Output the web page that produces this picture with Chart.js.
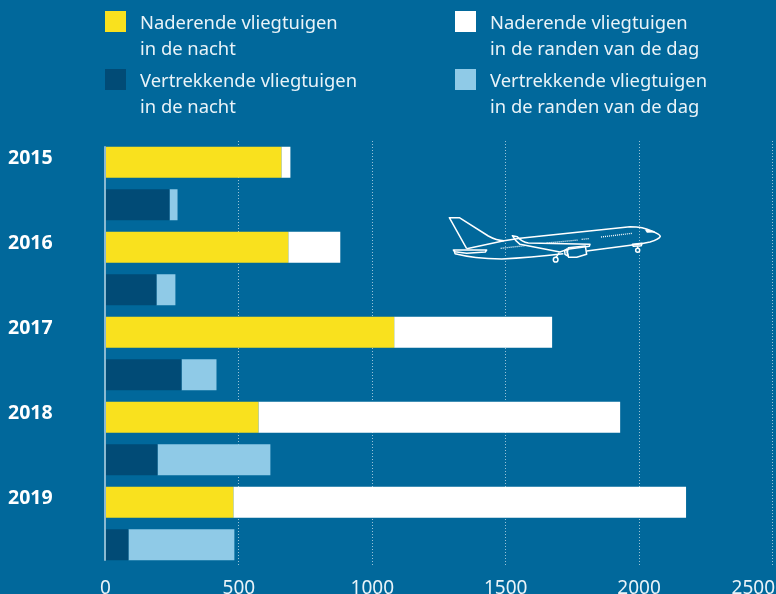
<!DOCTYPE html>
<html>
<head>
<meta charset="utf-8">
<title>Vliegtuigen</title>
<script src="https://cdn.jsdelivr.net/npm/chart.js@4"></script>
<style>
  html, body { margin: 0; padding: 0; background: #01689b; overflow: hidden; }
  #wrap { position: relative; width: 776px; height: 594px; font-family: "Noto Sans", sans-serif; }
  canvas { position: absolute; left: 0; top: 0; }
  .swatch { position: absolute; width: 21px; height: 21px; }
  .label { position: absolute; color: #e9f3f8; font-size: 18.4px; line-height: 26px; white-space: nowrap; }
  #plane { position: absolute; left: 430px; top: 200px; }
</style>
</head>
<body>
<div id="wrap">
  <canvas id="chart" width="776" height="594"></canvas>

  <div class="swatch" style="left:105px;top:11px;background:#f9e11e"></div>
  <div class="label" style="left:140px;top:9px">Naderende vliegtuigen<br>in de nacht</div>
  <div class="swatch" style="left:455px;top:11px;background:#ffffff"></div>
  <div class="label" style="left:490px;top:9px">Naderende vliegtuigen<br>in de randen van de dag</div>
  <div class="swatch" style="left:105px;top:69px;background:#014b76"></div>
  <div class="label" style="left:140px;top:67px">Vertrekkende vliegtuigen<br>in de nacht</div>
  <div class="swatch" style="left:455px;top:69px;background:#8fcae7"></div>
  <div class="label" style="left:490px;top:67px">Vertrekkende vliegtuigen<br>in de randen van de dag</div>

  <!-- plane illustration, just decoration -->
  <svg id="plane" width="250" height="80" viewBox="0 0 750 240" fill="none" stroke="#fff" stroke-width="4.5" stroke-linejoin="round">
    <path d="M110 146 L58 53 L88 53 L175 108 Q200 122 222 122 L270 115 L600 80 Q640 80 665 93 Q690 103 691 109 Q688 118 660 126 L630 132 L470 153"/>
    <path d="M110 146 L222 122"/>
    <path d="M400 161 Q300 172 215 177 Q130 175 75 161 L72 150"/>
    <path d="M70 150 L170 150 L166 156 L110 160 L75 155 Z"/>
    <path d="M247 107 L262 110 Q275 125 295 129 L480 133 L478 139 L412 148 L390 156 L270 133 Q255 122 247 107 Z"/>
    <path d="M415 143 L466 138 L470 163 L440 172 L416 172 L412 158 Z"/>
    <path d="M404 152 L410 147 L414 168 L405 163 Z"/>
    <path d="M388 158 L378 172"/>
    <circle cx="377" cy="179" r="7"/>
    <path d="M607 133 L636 130 L634 137 L610 139 Z"/>
    <path d="M622 139 L624 145"/>
    <circle cx="623" cy="151" r="6"/>
    <path d="M648 90 L672 95 L652 96 Z"/>
    <g stroke-dasharray="3 3" stroke-width="4">
      <path d="M212 145 L285 137"/>
      <path d="M350 129 L445 120"/>
      <path d="M455 118 L476 116"/>
      <path d="M513 111 L606 100"/>
    </g>
  </svg>
</div>

<script>
var categories = ['2015', '', '2016', '', '2017', '', '2018', '', '2019', ''];
var xTicks = [0, 500, 1000, 1500, 2000, 2500];

// arrivals are on the year rows, departures on the rows under them
var naderendNacht = [659, null, 685, null, 1082, null, 573, null, 479, null];
var naderendRanden = [34, null, 195, null, 592, null, 1356, null, 1697, null];
var vertrekkendNacht = [null, 240, null, 191, null, 285, null, 195, null, 86];
var vertrekkendRanden = [null, 30, null, 71, null, 131, null, 423, null, 397];

var tickFont = { family: '"Noto Sans", sans-serif', size: 19 };

// axis line at zero, only as long as the bars
var zeroLine = {
    id: 'zeroLine',
    beforeDatasetsDraw: function (chart) {
        var ctx = chart.ctx;
        var x = chart.scales.x.getPixelForValue(0);
        var y = chart.scales.y;
        ctx.save();
        ctx.strokeStyle = '#b9d4e3';
        ctx.lineWidth = 1.5;
        ctx.beginPath();
        ctx.moveTo(x - 0.5, y.getPixelForValue(0) - 16);
        ctx.lineTo(x - 0.5, y.getPixelForValue(categories.length - 1) + 16);
        ctx.stroke();
        ctx.restore();
    }
};

// the last tick label sits inside the picture, not centred on its gridline
var lastTick = {
    id: 'lastTick',
    afterDraw: function (chart) {
        var ctx = chart.ctx;
        ctx.save();
        ctx.font = tickFont.size + 'px ' + tickFont.family;
        ctx.fillStyle = '#e9f3f8';
        ctx.textAlign = 'right';
        ctx.textBaseline = 'middle';
        ctx.fillText(String(xTicks[xTicks.length - 1]), 775, 589);
        ctx.restore();
    }
};

var chart = new Chart(document.getElementById('chart').getContext('2d'), {
    type: 'bar',
    plugins: [zeroLine, lastTick],
    data: {
        labels: categories,
        datasets: [
            { label: 'Naderende vliegtuigen in de nacht', data: naderendNacht, backgroundColor: '#f9e11e' },
            { label: 'Naderende vliegtuigen in de randen van de dag', data: naderendRanden, backgroundColor: '#ffffff' },
            { label: 'Vertrekkende vliegtuigen in de nacht', data: vertrekkendNacht, backgroundColor: '#014b76' },
            { label: 'Vertrekkende vliegtuigen in de randen van de dag', data: vertrekkendRanden, backgroundColor: '#8fcae7' }
        ]
    },
    options: {
        indexAxis: 'y',
        responsive: false,
        animation: false,
        events: [],
        barPercentage: 0.731,
        categoryPercentage: 1,
        layout: { padding: { left: 8, right: 3.5, top: 141, bottom: 0 } },
        plugins: { legend: { display: false }, tooltip: { enabled: false } },
        scales: {
            x: {
                type: 'linear',
                stacked: true,
                min: 0,
                max: 2500,
                afterBuildTicks: function (axis) {
                    axis.ticks = xTicks.map(function (v) { return { value: v }; });
                },
                afterFit: function (axis) { axis.height = 28; axis.paddingRight = 0; axis.paddingLeft = 0; },
                grid: {
                    drawTicks: false,
                    color: function (c) {
                        return c.tick && c.tick.value === 0 ? 'rgba(0,0,0,0)' : 'rgba(255,255,255,0.6)';
                    }
                },
                border: { display: false, dash: [1, 2] },
                ticks: {
                    color: '#e9f3f8',
                    font: tickFont,
                    padding: 11,
                    maxRotation: 0,
                    autoSkip: false,
                    callback: function (v) { return v === xTicks[xTicks.length - 1] ? '' : String(v); }
                }
            },
            y: {
                stacked: true,
                afterFit: function (axis) { axis.width = 97.5; },
                grid: { display: false },
                border: { display: false },
                ticks: {
                    color: '#ffffff',
                    font: { family: tickFont.family, size: 19.5, weight: 'bold' },
                    crossAlign: 'far',
                    padding: 0,
                    labelOffset: -4,
                    autoSkip: false
                }
            }
        }
    }
});
</script>
</body>
</html>
